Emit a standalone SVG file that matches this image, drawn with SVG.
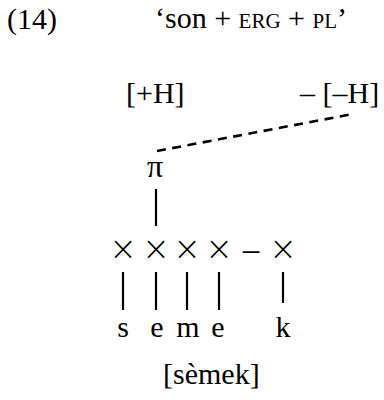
<svg xmlns="http://www.w3.org/2000/svg" width="384" height="400" viewBox="0 0 384 400">
<style>
text{font-family:"Liberation Serif","Times New Roman",serif;font-size:30px;fill:#000}
.m{text-anchor:middle}
.t{font-size:30px}
.sc{font-variant:small-caps}
.x{font-family:"DejaVu Sans",sans-serif;font-weight:200;font-size:33px}
line{stroke:#000;stroke-width:2.2}
.d{stroke-width:2.6;stroke-dasharray:9 6.5}
</style>
<rect width="384" height="400" fill="#fff"/>
<g id="label">
<text x="7" y="29">(14)</text>
<text class="t" x="155" y="28">‘son + <tspan class="sc">erg</tspan> + <tspan class="sc">pl</tspan>’</text>
</g>
<g id="tones">
<text id="hplus" x="126" y="103">[+H]</text>
<text id="hminus" x="300" y="103">– [–H]</text>
</g>
<g id="connectors">
<line class="d" x1="157" y1="151" x2="353" y2="114"/>
<line x1="156" y1="189" x2="156" y2="226"/>
<line x1="123" y1="272" x2="123" y2="310"/>
<line x1="156" y1="272" x2="156" y2="310"/>
<line x1="187" y1="272" x2="187" y2="310"/>
<line x1="219" y1="272" x2="219" y2="310"/>
<line x1="283" y1="272" x2="283" y2="303"/>
</g>
<g id="pi"><text class="m" x="155" y="177" style="font-size:32px">π</text></g>
<g id="skeleton">
<text class="m x" x="123" y="260">×</text>
<text class="m x" x="156" y="260">×</text>
<text class="m x" x="187" y="260">×</text>
<text class="m x" x="219" y="260">×</text>
<text class="m" x="251" y="264" style="font-size:36px">−</text>
<text class="m x" x="283" y="260">×</text>
</g>
<g id="segments">
<text class="m" x="123" y="337">s</text>
<text class="m" x="157" y="337">e</text>
<text class="m" x="188" y="337">m</text>
<text class="m" x="218" y="337">e</text>
<text class="m" x="283" y="337">k</text>
</g>
<g id="output"><text x="163" y="384">[sèmek]</text></g>
</svg>
